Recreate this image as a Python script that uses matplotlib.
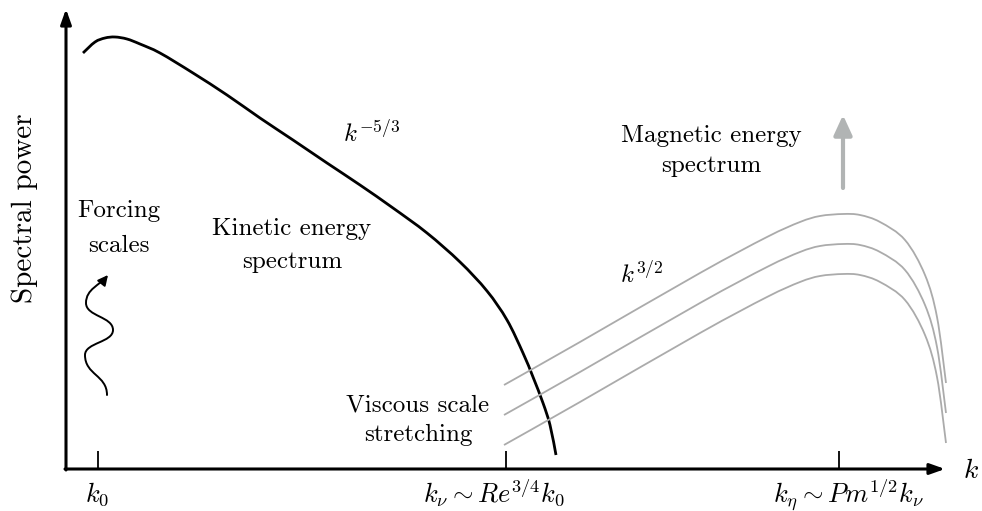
import numpy as np
import matplotlib
matplotlib.use("Agg")
import matplotlib.pyplot as plt
from matplotlib.path import Path
from matplotlib.patches import FancyArrowPatch, PathPatch

plt.rcParams['mathtext.fontset'] = 'cm'
plt.rcParams['font.family'] = 'cmr10'

# schematic units: origin at the corner of the axes
# kinetic energy spectrum
kin_k = [17, 29, 39, 49, 61, 74, 94, 127, 161, 194, 227, 261, 294, 327,
         361, 394, 421, 441, 457, 467, 477, 484, 490]
kin_p = [416, 427, 431, 432, 430, 425, 416, 396, 374, 351, 329, 306, 284,
         261, 236, 207, 178, 149, 116, 92, 66, 44, 14]

# magnetic energy spectrum at three stages of growth
mag_k = [438, 514, 634, 701, 734, 754, 777, 794, 814, 839, 859, 871, 880]
mag_p_late = [84, 127, 196, 232, 247, 253, 255, 254, 247, 229, 194, 152, 86]
mag_p_mid = [54, 97, 166, 202, 217, 223, 225, 224, 217, 199, 164, 122, 56]
mag_p_early = [24, 67, 136, 172, 187, 193, 195, 194, 187, 169, 134, 92, 26]

# forcing wiggle (turning points)
wave_k = [41, 19, 47, 20, 42]
wave_p = [74, 114, 139, 166, 194]

tick_k = [32, 440, 773]
tick_label_k = [31, 428, 782]
tick_labels = [r'$k_0$', r'$k_\nu \sim Re^{3/4}k_0$', r'$k_\eta \sim Pm^{1/2}k_\nu$']


def smooth_path(xs, ys):
    # catmull-rom through the read points, as cubic bezier segments
    pts = np.column_stack([xs, ys]).astype(float)
    ext = np.vstack([pts[0], pts, pts[-1]])
    verts = [tuple(pts[0])]
    codes = [Path.MOVETO]
    for i in range(1, len(ext) - 2):
        p0, p1, p2, p3 = ext[i - 1], ext[i], ext[i + 1], ext[i + 2]
        verts += [tuple(p1 + (p2 - p0) / 6), tuple(p2 - (p3 - p1) / 6), tuple(p2)]
        codes += [Path.CURVE4] * 3
    return Path(verts, codes)


fig = plt.figure(figsize=(9.82, 5.11), dpi=100)
ax = fig.add_axes([0, 0, 1, 1])
ax.set_xlim(-66, 916)
ax.set_ylim(-42, 469)
ax.axis('off')

# axes with arrows
axprops = dict(arrowstyle='-|>,head_length=0.9,head_width=0.32', lw=2.2,
               color='black', shrinkA=0, shrinkB=0, mutation_scale=10)
ax.annotate('', xy=(0, 460), xytext=(0, -1), arrowprops=axprops)
ax.annotate('', xy=(879, 0), xytext=(-1, 0), arrowprops=axprops)

for t in tick_k:
    ax.plot([t, t], [0, 18], color='black', lw=1.3, solid_capstyle='butt')
for x, lab in zip(tick_label_k, tick_labels):
    ax.text(x, -33, lab, ha='center', va='baseline', fontsize=19)

ax.text(897, -9, r'$k$', ha='left', va='baseline', fontsize=20)
ax.text(-41, 261, 'Spectral power', rotation=90, ha='center', va='center',
        fontsize=21)

# spectra
ax.add_patch(PathPatch(smooth_path(kin_k, kin_p), fc='none', ec='black',
                       lw=2.0, capstyle='butt'))
grey = '#ababab'
for p in (mag_p_late, mag_p_mid, mag_p_early):
    ax.add_patch(PathPatch(smooth_path(mag_k, p), fc='none', ec=grey, lw=1.3))

# growth arrow above the magnetic peak
ax.annotate('', xy=(777, 354), xytext=(777, 281),
            arrowprops=dict(arrowstyle='-|>,head_length=1.2,head_width=0.55',
                            lw=3, color='#b1b4b4', shrinkA=0, shrinkB=0,
                            mutation_scale=10))

# forcing wiggle as a bezier path
verts = [(wave_k[0], wave_p[0])]
codes = [Path.MOVETO]
for i in range(len(wave_k) - 1):
    h = wave_p[i + 1] - wave_p[i]
    if i == len(wave_k) - 2:
        c2 = (wave_k[i + 1] - 8, wave_p[i + 1] - 10)
    else:
        c2 = (wave_k[i + 1], wave_p[i + 1] - 0.5 * h)
    verts += [(wave_k[i], wave_p[i] + 0.5 * h), c2, (wave_k[i + 1], wave_p[i + 1])]
    codes += [Path.CURVE4] * 3
wave = FancyArrowPatch(path=Path(verts, codes), transform=ax.transData,
                       arrowstyle='-|>,head_length=0.6,head_width=0.3',
                       mutation_scale=10, lw=1.4, color='black')
ax.add_patch(wave)

# labels
fs = 18
ax.text(53, 252, 'Forcing', ha='center', va='baseline', fontsize=fs)
ax.text(53, 217, 'scales', ha='center', va='baseline', fontsize=fs)
ax.text(226, 234, 'Kinetic energy', ha='center', va='baseline', fontsize=fs)
ax.text(226, 201, 'spectrum', ha='center', va='baseline', fontsize=fs)
ax.text(645, 327, 'Magnetic energy', ha='center', va='baseline', fontsize=fs)
ax.text(645, 297, 'spectrum', ha='center', va='baseline', fontsize=fs)
ax.text(352, 58, 'Viscous scale', ha='center', va='baseline', fontsize=fs)
ax.text(352, 28, 'stretching', ha='center', va='baseline', fontsize=fs)
ax.text(277, 327, r'$k^{-5/3}$', ha='left', va='baseline', fontsize=fs)
ax.text(554, 186, r'$k^{3/2}$', ha='left', va='baseline', fontsize=fs)

fig.savefig('out.png', dpi=100)
